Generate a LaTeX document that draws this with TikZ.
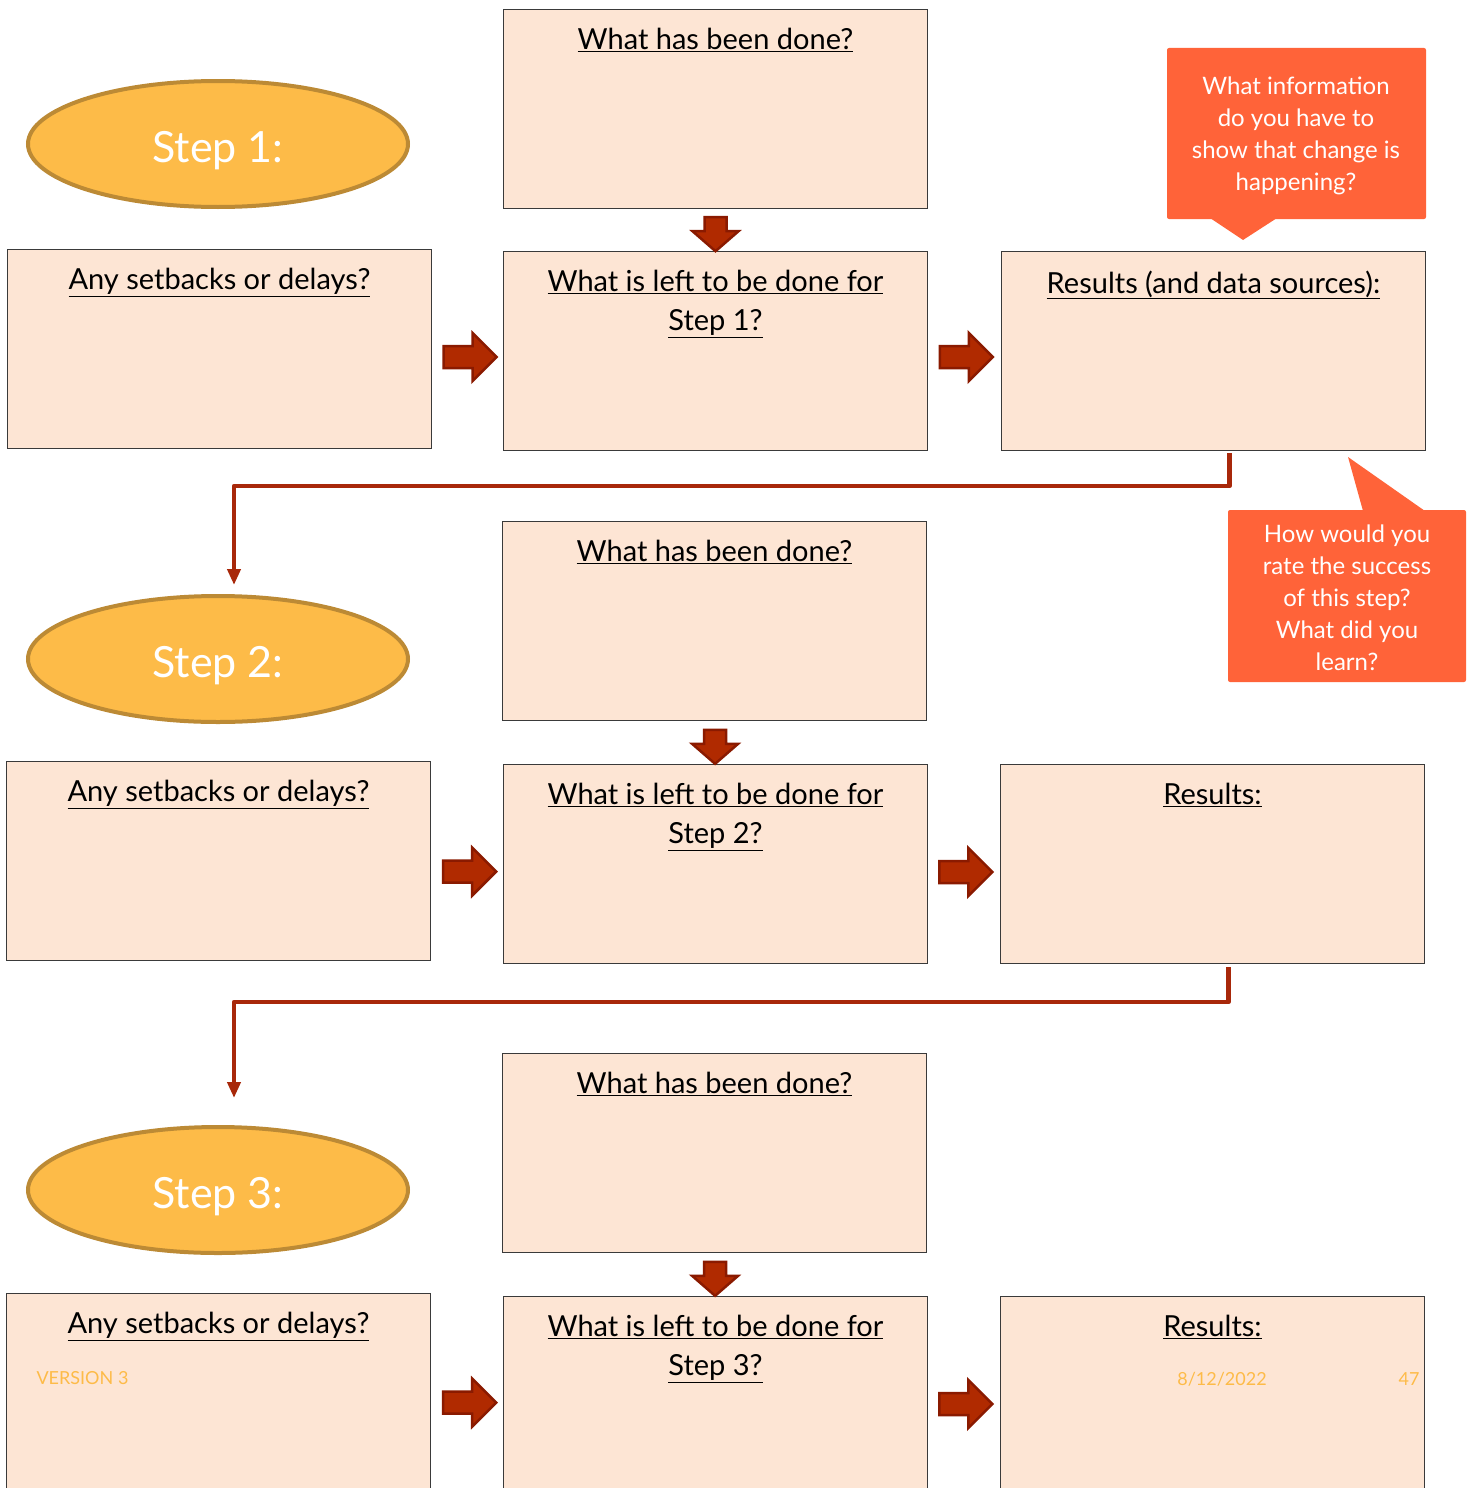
\documentclass[tikz,border=0pt]{standalone}
\usepackage{fontspec}
\setmainfont{Lato}
\usepackage{xcolor}
\usetikzlibrary{arrows.meta,positioning,calc,shapes.geometric}

\definecolor{peach}{HTML}{FDE5D4}
\definecolor{boxline}{HTML}{3A3A3A}
\definecolor{oval}{HTML}{FDBB48}
\definecolor{ovalline}{HTML}{BC8A35}
\definecolor{callout}{HTML}{FF6339}
\definecolor{arrowred}{HTML}{B02A00}
\definecolor{arrowdark}{HTML}{8A1A00}
\definecolor{flowred}{HTML}{A8280A}

\begin{document}
\begin{tikzpicture}[x=1pt,y=-1pt,
  box/.style={draw=boxline, line width=1pt, fill=peach, minimum width=424pt,
    minimum height=199pt, anchor=north west, inner sep=0pt},
  boxtitle/.style={anchor=north, yshift=-16pt, align=center,
    font=\fontsize{29}{39}\selectfont},
  stepoval/.style={ellipse, draw=ovalline, line width=4pt, fill=oval,
    minimum width=380pt, minimum height=126pt, inner sep=0pt, text=white,
    text height=45pt, text depth=9pt,
    font=\fontsize{43}{50}\selectfont},
  calloutbox/.style={fill=callout, rounded corners=2pt},
  callouttext/.style={text=white, align=center, font=\fontsize{24}{32}\selectfont},
  blockarr/.style={fill=arrowred, draw=arrowdark, line width=2.5pt, line join=miter},
  flow/.style={draw=flowred, line width=4.5pt, line join=round,
    -{Triangle[length=16pt,width=13pt]}},
  footer/.style={text=oval, font=\fontsize{18}{20}\selectfont},
  rarrow/.pic={\draw[blockarr] (-26,-11)--(3,-11)--(3,-24)--(27,0)--(3,24)--(3,11)--(-26,11)--cycle;},
  darrow/.pic={\draw[blockarr] (-11,-17)--(11,-17)--(11,-3)--(23,-3)--(0,17)--(-23,-3)--(-11,-3)--cycle;}
  ]
  \useasboundingbox (0,0) rectangle (1469,1488);
  \clip (0,0) rectangle (1469,1488);

  % step 1
  \begin{scope}
    \node[stepoval] (oval1) at (218,144) {Step 1:};
    \node[box, label={[boxtitle]north:\underline{What has been done?}}] (done1) at (503,9) {};
    \node[box, label={[boxtitle]north:\underline{Any setbacks or delays?}}] (set1) at (7,249) {};
    \node[box, label={[boxtitle]north:{\underline{What is left to be done for}\\\underline{Step 1?}}}] (left1) at (503,251) {};
    \node[box, label={[boxtitle]north:\underline{Results (and data sources):}}] (res1) at (1001,251) {};
    \pic at ($(done1.south)!0.6!(left1.north)$) {darrow};
    \pic at ($(set1.east)!0.53!(left1.west)+(0,7)$) {rarrow};
    \pic at ($(left1.east)!0.52!(res1.west)+(0,6)$) {rarrow};
  \end{scope}

  % step 2
  \begin{scope}[shift={(0,512)}]
    \node[stepoval] (oval2) at (218,147) {Step 2:};
    \node[box, label={[boxtitle]north:\underline{What has been done?}}] (done2) at (502,9) {};
    \node[box, label={[boxtitle]north:\underline{Any setbacks or delays?}}] (set2) at (6,249) {};
    \node[box, label={[boxtitle]north:{\underline{What is left to be done for}\\\underline{Step 2?}}}] (left2) at (503,252) {};
    \node[box, label={[boxtitle]north:\underline{Results:}}] (res2) at (1000,252) {};
    \pic at ($(done2.south)!0.6!(left2.north)$) {darrow};
    \pic at ($(set2.east)!0.53!(left2.west)+(0,9)$) {rarrow};
    \pic at ($(left2.east)!0.52!(res2.west)+(0,8)$) {rarrow};
  \end{scope}

  % step 3
  \begin{scope}[shift={(0,1044)}]
    \node[stepoval] (oval3) at (218,146) {Step 3:};
    \node[box, label={[boxtitle]north:\underline{What has been done?}}] (done3) at (502,9) {};
    \node[box, label={[boxtitle]north:\underline{Any setbacks or delays?}}] (set3) at (6,249) {};
    \node[box, label={[boxtitle]north:{\underline{What is left to be done for}\\\underline{Step 3?}}}] (left3) at (503,252) {};
    \node[box, label={[boxtitle]north:\underline{Results:}}] (res3) at (1000,252) {};
    \pic at ($(done3.south)!0.6!(left3.north)$) {darrow};
    \pic at ($(set3.east)!0.53!(left3.west)+(0,8)$) {rarrow};
    \pic at ($(left3.east)!0.52!(res3.west)+(0,8)$) {rarrow};
    \node[footer, anchor=west] (version) at (33,334) {VERSION 3};
    \node[footer] (date) at (1222,335) {8/12/2022};
    \node[footer, anchor=east] (page) at (1423,335) {47};
  \end{scope}

  % flow between steps
  \draw[flow] ([xshift=16pt,yshift=-2pt]res1.south) -- ++(0,33) -| ([xshift=16pt,yshift=9pt]oval2.north);
  \draw[flow] ([xshift=16pt,yshift=-3pt]res2.south) -- ++(0,35) -| ([xshift=16pt,yshift=27pt]oval3.north);

  % callouts
  \fill[calloutbox] (1167,48) rectangle (1426,219);
  \fill[callout] (1210,218) -- (1243,240) -- (1277,218) -- cycle;
  \node[callouttext] (infonote) at (1296,136) {What information\\do you have to\\show that change is\\happening?};
  \fill[calloutbox] (1228,510) rectangle (1466,682);
  \fill[callout] (1363,511) -- (1348,457) -- (1425,511) -- cycle;
  \node[callouttext] (ratenote) at (1347,598) {How would you\\rate the success\\of this step?\\What did you\\learn?};
\end{tikzpicture}
\end{document}
